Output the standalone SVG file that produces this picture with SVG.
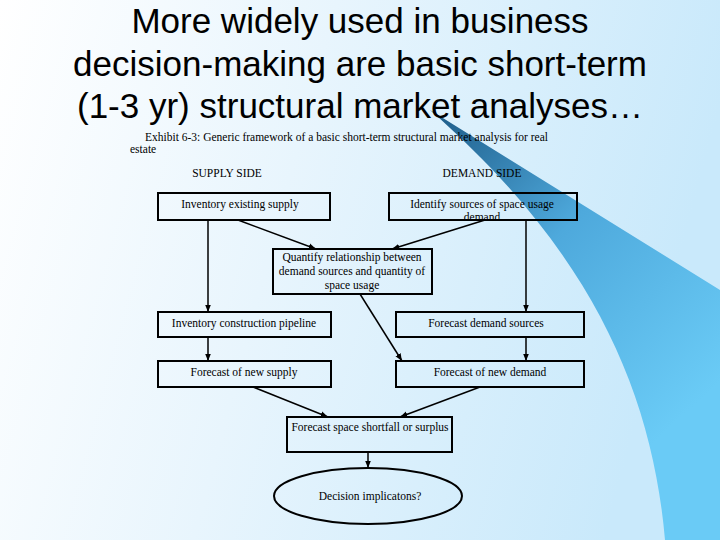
<svg xmlns="http://www.w3.org/2000/svg" width="720" height="540" viewBox="0 0 720 540">
<defs>
<linearGradient id="bg" x1="0" y1="0" x2="1" y2="0.2"><stop offset="0" stop-color="#ffffff"/><stop offset="0.45" stop-color="#e8f5fd"/><stop offset="1" stop-color="#c9e9fb"/></linearGradient>
<linearGradient id="sw" x1="430" y1="110" x2="700" y2="400" gradientUnits="userSpaceOnUse"><stop offset="0" stop-color="#1d5a86"/><stop offset="0.45" stop-color="#4ea9dc"/><stop offset="1" stop-color="#6acbf6"/></linearGradient>
<marker id="ah" viewBox="0 0 10 10" refX="10" refY="5" markerWidth="5" markerHeight="5" orient="auto"><path d="M0,1 L10,5 L0,9 z" fill="#000"/></marker>
<style>
.b{fill:none;stroke:#000;stroke-width:2}
.t{font-family:"Liberation Serif",serif;font-size:11.5px;fill:#000;text-anchor:middle}
.c{stroke:#000;stroke-width:1.5;fill:none;marker-end:url(#ah)}
.h{font-family:"Liberation Sans",Arial,sans-serif;font-size:35px;fill:#000;text-anchor:middle}
</style>
</defs>
<rect width="720" height="540" fill="url(#bg)"/>
<path d="M430,110 L720,290 L720,540 L665,540 C652,390 590,250 430,110 z" fill="url(#sw)"/>
<text class="h" x="360" y="33">More widely used in business</text>
<text class="h" x="360" y="76">decision-making are basic short-term</text>
<text class="h" x="360" y="118">(1-3 yr) structural market analyses…</text>
<text font-family="Liberation Serif,serif" font-size="11.5" x="145" y="141">Exhibit 6-3: Generic framework of a basic short-term structural market analysis for real</text>
<text font-family="Liberation Serif,serif" font-size="11.5" x="130" y="153">estate</text>
<text class="t" x="227" y="177">SUPPLY SIDE</text>
<text class="t" x="482" y="177">DEMAND SIDE</text>
<g id="n1"><rect class="b" x="158" y="193" width="172" height="27"/><text class="t" x="240" y="208">Inventory existing supply</text></g>
<g id="n2"><rect class="b" x="389" y="193" width="188" height="27"/><text class="t" x="482" y="208">Identify sources of space usage</text><text class="t" x="482" y="221">demand</text></g>
<g id="n3"><rect class="b" x="273" y="249" width="159" height="45"/><text class="t" x="352" y="261">Quantify relationship between</text><text class="t" x="352" y="275">demand sources and quantity of</text><text class="t" x="352" y="289">space usage</text></g>
<g id="n4"><rect class="b" x="158" y="312" width="173" height="25"/><text class="t" x="244" y="327">Inventory construction pipeline</text></g>
<g id="n5"><rect class="b" x="396" y="312" width="188" height="25"/><text class="t" x="486" y="327">Forecast demand sources</text></g>
<g id="n6"><rect class="b" x="158" y="361" width="173" height="26"/><text class="t" x="244" y="376">Forecast of new supply</text></g>
<g id="n7"><rect class="b" x="396" y="361" width="188" height="26"/><text class="t" x="490" y="376">Forecast of new demand</text></g>
<g id="n8"><rect class="b" x="287" y="417" width="165" height="35"/><text class="t" x="370" y="431">Forecast space shortfall or surplus</text></g>
<g id="n9"><ellipse class="b" cx="368" cy="496" rx="94" ry="28"/><text class="t" x="370" y="500">Decision implicatons?</text></g>
<g id="connectors">
<line class="c" x1="208" y1="220" x2="208" y2="312"/>
<line class="c" x1="238" y1="220" x2="316" y2="249"/>
<line class="c" x1="485" y1="220" x2="392" y2="249"/>
<line class="c" x1="526" y1="220" x2="526" y2="312"/>
<line class="c" x1="360" y1="294" x2="402" y2="361"/>
<line class="c" x1="208" y1="337" x2="208" y2="361"/>
<line class="c" x1="526" y1="337" x2="526" y2="361"/>
<line class="c" x1="253" y1="387" x2="328" y2="417"/>
<line class="c" x1="480" y1="387" x2="400" y2="417"/>
<line class="c" x1="368" y1="452" x2="368" y2="468"/>
</g>
</svg>
